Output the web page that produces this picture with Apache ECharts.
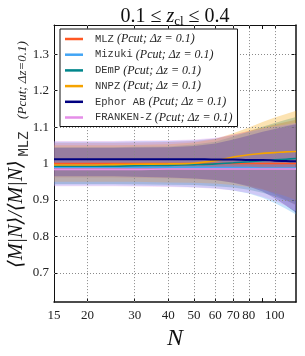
<!DOCTYPE html>
<html><head><meta charset="utf-8">
<script src="https://cdn.jsdelivr.net/npm/echarts@6/dist/echarts.min.js"></script>
<style>html,body{margin:0;padding:0;background:#fff}#c{width:305px;height:356px}</style>
</head><body><div id="c"></div>
<script>
const N = [15,20,25,30,40,50,60,70,80,90,100,110,120];
const names = ['MLZ','Mizuki','DEmP','NNPZ','Ephor AB','FRANKEN-Z'];
const colors = ['#ff5722','#42a5f5','#00868b','#f5a300','#000080','#e58ee8'];

const lineMLZ    = [1.000,1.000,1.000,1.000,1.000,1.000,1.000,1.000,1.000,1.000,1.000,1.000,1.000];
const lineMizuki = [0.990,0.990,0.990,0.990,0.990,0.990,0.989,0.989,0.989,0.988,0.988,0.988,0.988];
const lineDEmP   = [0.993,0.993,0.993,0.994,0.995,0.997,0.999,1.002,1.005,1.008,1.010,1.012,1.014];
const lineNNPZ   = [0.996,0.996,0.997,0.998,0.999,1.001,1.008,1.018,1.024,1.028,1.030,1.032,1.033];
const lineEphor  = [1.012,1.012,1.012,1.012,1.012,1.012,1.011,1.011,1.010,1.010,1.008,1.007,1.006];
const lineFranken= [0.984,0.984,0.984,0.984,0.985,0.985,0.985,0.985,0.985,0.985,0.985,0.985,0.985];

const upMLZ    = [1.057,1.057,1.057,1.058,1.059,1.062,1.068,1.079,1.090,1.099,1.107,1.114,1.120];
const loMLZ    = [0.962,0.962,0.962,0.961,0.960,0.957,0.954,0.948,0.940,0.930,0.916,0.900,0.885];
const upMizuki = [1.060,1.060,1.060,1.061,1.062,1.064,1.069,1.078,1.086,1.094,1.100,1.105,1.110];
const loMizuki = [0.940,0.940,0.940,0.939,0.938,0.935,0.932,0.926,0.918,0.906,0.892,0.876,0.860];
const upDEmP   = [1.045,1.045,1.045,1.046,1.047,1.052,1.060,1.074,1.088,1.101,1.111,1.120,1.128];
const loDEmP   = [0.944,0.944,0.944,0.943,0.942,0.941,0.938,0.934,0.928,0.920,0.910,0.899,0.888];
const upNNPZ   = [1.050,1.050,1.050,1.051,1.053,1.058,1.067,1.083,1.099,1.114,1.126,1.136,1.145];
const loNNPZ   = [0.950,0.950,0.950,0.950,0.948,0.947,0.945,0.941,0.936,0.929,0.920,0.910,0.900];
const upEphor  = [1.043,1.043,1.043,1.044,1.045,1.048,1.055,1.066,1.077,1.087,1.095,1.102,1.108];
const loEphor  = [0.965,0.965,0.965,0.964,0.962,0.959,0.955,0.947,0.937,0.923,0.905,0.885,0.865];
const upFranken= [1.062,1.062,1.062,1.063,1.064,1.066,1.071,1.080,1.088,1.096,1.102,1.107,1.112];
const loFranken= [0.938,0.938,0.938,0.937,0.936,0.934,0.931,0.926,0.919,0.909,0.897,0.884,0.870];

const xTicks = [15,20,30,40,50,60,70,80,100];
const xGrid = [20,30,40,50,60,70,80,100];
const yTicks = [0.7,0.8,0.9,1.0,1.1,1.2,1.3];

const lines = [lineMLZ,lineMizuki,lineDEmP,lineNNPZ,lineEphor,lineFranken];
const ups = [upMLZ,upMizuki,upDEmP,upNNPZ,upEphor,upFranken];
const los = [loMLZ,loMizuki,loDEmP,loNNPZ,loEphor,loFranken];

const serif = '"Liberation Serif","DejaVu Serif",serif';
const mono = '"Liberation Mono","DejaVu Sans Mono",monospace';

function hexA(h,a){const r=parseInt(h.slice(1,3),16),g=parseInt(h.slice(3,5),16),b=parseInt(h.slice(5,7),16);return `rgba(${r},${g},${b},${a})`;}

const series = [];
series.push({type:'line',name:'grid',data:[],silent:true,z:1,
  markLine:{silent:true,symbol:['none','none'],label:{show:false},animation:false,
    lineStyle:{type:[1,2],color:'#8a8a8a',width:1},
    data:[...xGrid.map(v=>({xAxis:v})),...yTicks.map(v=>({yAxis:v}))]}});
names.forEach((n,i)=>{
  series.push({type:'custom',name:'band'+i,silent:true,z:2,
    data:N.map((x,k)=>[x,los[i][k],ups[i][k]]),
    encode:{x:0,y:[1,2]},
    renderItem:(params,api)=>{
      if(params.dataIndex!==0) return null;
      const top=N.map((x,k)=>api.coord([x,ups[i][k]]));
      const bot=N.map((x,k)=>api.coord([x,los[i][k]])).reverse();
      return {type:'polygon',shape:{points:top.concat(bot)},
        style:{fill:hexA(colors[i],0.3),stroke:null},
        clipPath:{type:'rect',shape:{x:params.coordSys.x,y:params.coordSys.y,width:params.coordSys.width,height:params.coordSys.height}}};
    }});
});
names.forEach((n,i)=>{
  series.push({type:'line',name:n,data:N.map((x,k)=>[x,lines[i][k]]),symbol:'none',smooth:0.3,
    color:colors[i],lineStyle:{color:colors[i],width:i===4?2:1.6},z:5+i});
});

const chart = echarts.init(document.getElementById('c'),null,{renderer:'canvas'});
chart.setOption({
  animation:false,
  backgroundColor:'#fff',
  title:{text:'{a|0.1 ≤ }{z|z}{s|cl}{a| ≤ 0.4}',left:170,top:1,textAlign:'center',
    textStyle:{fontWeight:'normal',rich:{a:{fontFamily:serif,fontWeight:'normal',fontSize:20,color:'#111'},
      z:{fontFamily:serif,fontStyle:'italic',fontWeight:'normal',fontSize:20,color:'#111'},
      s:{fontFamily:serif,fontWeight:'normal',fontSize:13,color:'#111',padding:[9,0,0,0]}}}},
  grid:{left:54,right:9,top:25,bottom:50},
  legend:{data:names,left:60,top:29,orient:'vertical',icon:'rect',itemWidth:18,itemHeight:2.5,itemGap:3.7,
    padding:[4,5,3,5],borderColor:'#111',borderWidth:1,backgroundColor:'#fff',z:20,
    formatter:n=>`{m|${n}}{i|(Pcut; Δz = 0.1)}`,
    textStyle:{rich:{m:{fontFamily:mono,fontSize:10.5,color:'#333',padding:[0,3,0,7],lineHeight:12},
      i:{fontFamily:serif,fontStyle:'italic',fontSize:12,color:'#222',lineHeight:12}}}},
  xAxis:[
    {type:'log',logBase:10,min:15,max:120,position:'bottom',
     axisLine:{lineStyle:{color:'#111',width:1.5}},
     axisTick:{inside:true,length:4,customValues:[15,20,30,40,50,60,70,80,90,100],lineStyle:{color:'#111'}},
     axisLabel:{customValues:xTicks,fontFamily:serif,fontSize:13,color:'#222',margin:7,formatter:v=>String(Math.round(v))},
     splitLine:{show:false},minorTick:{show:false},
     name:'N',nameLocation:'middle',nameGap:23,nameTextStyle:{fontFamily:serif,fontStyle:'italic',fontSize:24,color:'#111'}},
    {type:'log',logBase:10,min:15,max:120,position:'top',
     axisLine:{lineStyle:{color:'#111',width:1}},
     axisTick:{inside:true,length:4,customValues:[20,30,40,50,60,70,80,90,100],lineStyle:{color:'#111'}},
     axisLabel:{show:false},splitLine:{show:false}}
  ],
  yAxis:[
    {type:'value',min:0.62,max:1.38,position:'left',
     axisLine:{show:true,lineStyle:{color:'#111',width:1}},
     axisTick:{show:true,inside:true,length:4,customValues:yTicks,lineStyle:{color:'#111'}},
     axisLabel:{customValues:yTicks,fontFamily:serif,fontSize:13,color:'#222',margin:5,formatter:v=>String(+(+v).toFixed(1))},
     splitLine:{show:false}},
    {type:'value',min:0.62,max:1.38,position:'right',
     axisLine:{show:true,lineStyle:{color:'#111',width:1.5}},
     axisTick:{show:true,inside:true,length:4,customValues:yTicks,lineStyle:{color:'#111'}},
     axisLabel:{show:false},splitLine:{show:false}}
  ],
  graphic:[
    {type:'text',rotation:Math.PI/2,x:17,y:214,
     style:{text:'⟨M|N⟩/⟨M|N⟩',font:'italic 20px '+serif,fill:'#111',align:'center',verticalAlign:'middle'}},
    {type:'text',rotation:Math.PI/2,x:24,y:144,
     style:{text:'MLZ',font:'14px '+mono,fill:'#333',align:'center',verticalAlign:'middle'}},
    {type:'text',rotation:Math.PI/2,x:23,y:80,
     style:{text:'(Pcut; Δz=0.1)',font:'italic 13px '+serif,fill:'#222',align:'center',verticalAlign:'middle'}}
  ],
  series
});
</script></body></html>
